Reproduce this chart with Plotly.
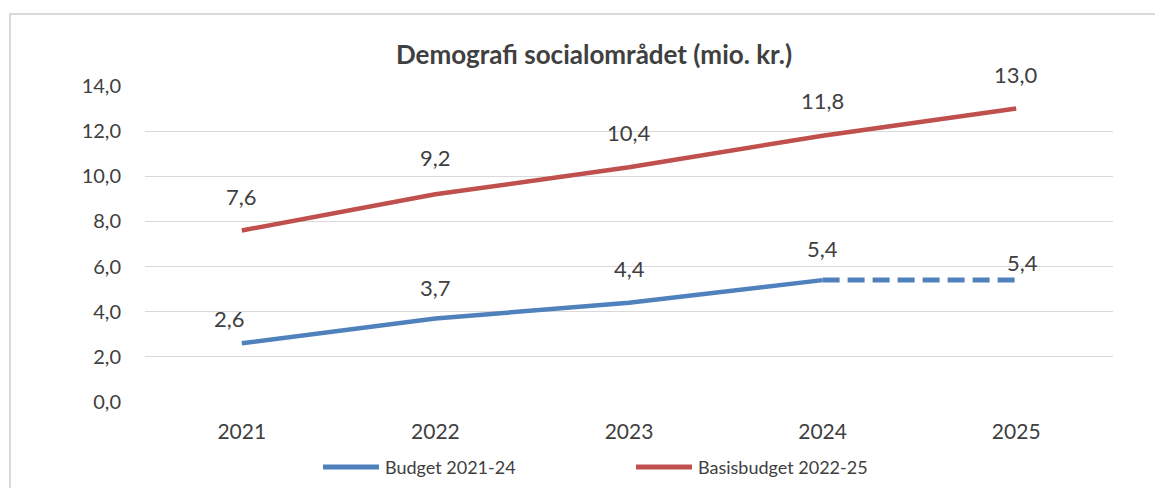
import plotly.graph_objects as go

years = ["2021", "2022", "2023", "2024", "2025"]
budget_2021_24 = [2.6, 3.7, 4.4, 5.4, None]
budget_2021_24_ext = [None, None, None, 5.4, 5.4]
basis_2022_25 = [7.6, 9.2, 10.4, 11.8, 13.0]
y_ticks = [0, 2, 4, 6, 8, 10, 12, 14]
series_names = ["Budget 2021-24", "Basisbudget 2022-25"]

BLUE = "#4f81bd"
RED = "#c0504d"
TXT = "#404040"
FONT = "Lato"

OFF = 8  # page body margin
W, H = 1163 - 2 * OFF, 496 - 2 * OFF
L, T = 145 - OFF, 86 - OFF
pw, ph = 968, 316
R, B = W - L - pw, H - T - ph


def px_x(p):
    return (p - OFF - L) / pw


def px_y(p):
    return (H - B - (p - OFF)) / ph


fig = go.Figure()
fig.add_trace(go.Scatter(x=years, y=budget_2021_24, mode="lines", name=series_names[0],
                         line=dict(color=BLUE, width=4.5), showlegend=False))
fig.add_trace(go.Scatter(x=years, y=budget_2021_24_ext, mode="lines", showlegend=False,
                         line=dict(color=BLUE, width=5, dash="17px,8px")))
fig.add_trace(go.Scatter(x=years, y=basis_2022_25, mode="lines", name=series_names[1],
                         line=dict(color=RED, width=4.5), showlegend=False))


def fmt(v):
    return f"{v:.1f}".replace(".", ",")


blue_vals = [v if v is not None else e for v, e in zip(budget_2021_24, budget_2021_24_ext)]
blue_shift = [(-12, 25), (0, 31), (0, 34), (0, 32), (6, 18)]
for i, (v, (dx, dy)) in enumerate(zip(blue_vals, blue_shift)):
    fig.add_annotation(x=i, y=v, xref="x", yref="y", text=fmt(v), showarrow=False,
                       xshift=dx, yshift=dy, font=dict(family=FONT, size=22, color=TXT))
red_shift = [34, 37, 35, 35, 34]
for i, (v, dy) in enumerate(zip(basis_2022_25, red_shift)):
    fig.add_annotation(x=i, y=v, xref="x", yref="y", text=fmt(v), showarrow=False,
                       yshift=dy, font=dict(family=FONT, size=22, color=TXT))

# title
fig.add_annotation(xref="paper", yref="paper", x=px_x(594), y=px_y(54), text="<b>Demografi socialområdet (mio. kr.)</b>",
                   showarrow=False, xanchor="center", yanchor="middle",
                   font=dict(family=FONT, size=26, color=TXT))

# legend (drawn)
for name, color, x0, x1, tx in [(series_names[0], BLUE, 323, 379, 383),
                                (series_names[1], RED, 636, 692, 696)]:
    fig.add_shape(type="line", xref="paper", yref="paper", x0=px_x(x0), x1=px_x(x1),
                  y0=px_y(467), y1=px_y(467), line=dict(color=color, width=5))
    fig.add_annotation(xref="paper", yref="paper", x=px_x(tx), y=px_y(467), text=name,
                       showarrow=False, xanchor="left", yanchor="middle",
                       font=dict(family=FONT, size=18, color=TXT))

# chart border
fig.add_shape(type="rect", xref="paper", yref="paper",
              x0=px_x(10), x1=px_x(1180), y0=px_y(520), y1=px_y(14),
              line=dict(color="#d9d9d9", width=2), fillcolor="rgba(0,0,0,0)", layer="below")

fig.update_layout(
    width=W, height=H,
    margin=dict(l=L, r=R, t=T, b=B),
    paper_bgcolor="white", plot_bgcolor="white",
    separators=",.",
    font=dict(family=FONT, color=TXT),
    showlegend=False,
    xaxis=dict(type="category", range=[-0.5, 4.5], showgrid=False, showline=False, zeroline=False,
               ticks="", tickfont=dict(family=FONT, size=21, color=TXT), ticklabelstandoff=15),
    yaxis=dict(range=[0, 14], tickvals=y_ticks, tickformat=".1f", showgrid=True,
               gridcolor="#d9d9d9", gridwidth=1, zeroline=False, showline=False, ticks="",
               tickfont=dict(family=FONT, size=20, color=TXT), ticklabelstandoff=23),
)

fig.write_html("out.html")
